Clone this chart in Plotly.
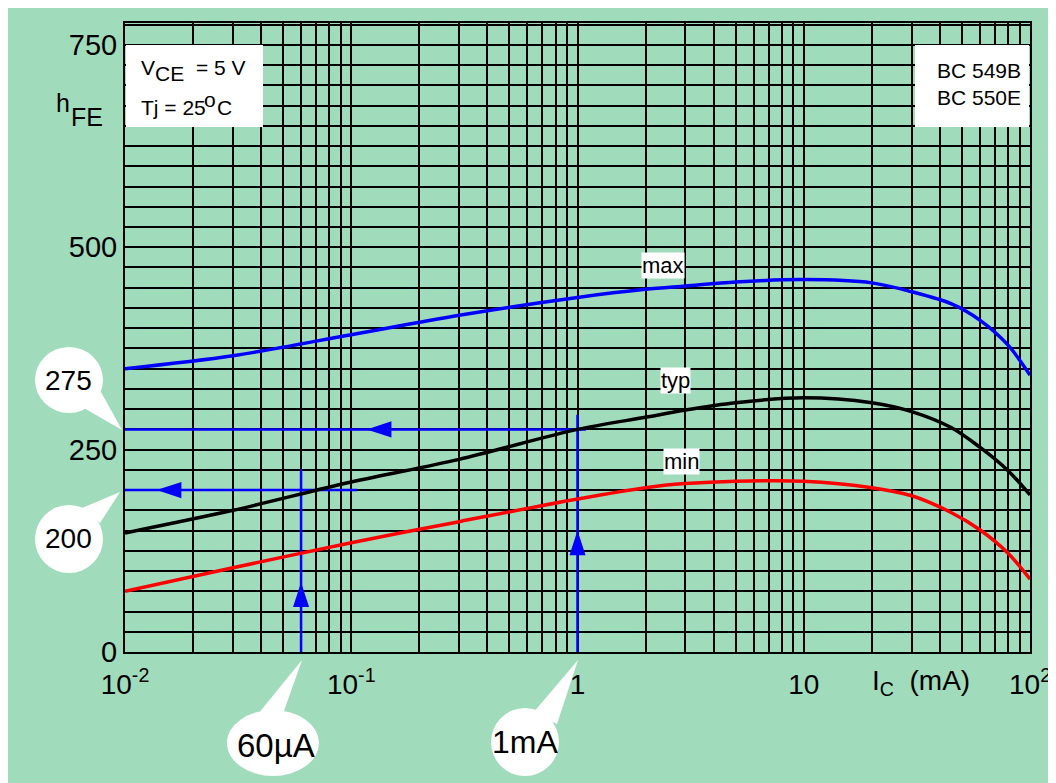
import plotly.graph_objects as go

# ---------------- data ----------------
ic_ma = [0.01, 0.03, 0.1, 0.3, 1, 2, 3, 5, 10, 20, 30, 45, 60, 80, 100]
hfe_max = [350, 366, 392, 416, 438, 448, 452, 457, 460, 456, 445, 430, 410, 379, 342]
hfe_typ = [147, 175, 210, 238, 275, 290, 299, 308, 314, 308, 297, 277, 253, 224, 194]
hfe_min = [75, 104, 135, 161, 189, 203, 208, 211, 211, 203, 193, 172, 151, 122, 90]

y_tick_vals = [0, 250, 500, 750]
y_tick_text = ["0", "250", "500", "750"]
x_tick_vals = [0.01, 0.1, 1, 10, 100]
x_tick_text = ["10<sup>-2</sup>", "10<sup>-1</sup>", "1", "10", "10<sup>2</sup>"]

# operating points
op_ic = [0.06, 1.0]      # mA
op_hfe = [200, 275]
# arrow-head tips
arrow_left_x = [0.0138, 0.117]
arrow_up_y = [86, 150]

# ---------------- geometry ----------------
OFF = 8                      # page body margin
W, H = 1056 - OFF, 783 - OFF
PX0, PX1, PY0, PY1 = 125, 1030, 23, 652   # plot area in screen pixels
L, T = PX0 - OFF, PY0 - OFF
R = W - (PX1 - OFF)
B = H - (PY1 - OFF)
PW = PX1 - PX0
PH = PY1 - PY0
FONT = "Arial, Liberation Sans, sans-serif"
GREEN = "#A0DCBC"


def px2x(px):
    return (px - PX0) / PW


def py2y(py):
    return (PY1 - py) / PH


def ann(text, px, py, size, xanchor="center", yanchor="middle", **kw):
    return dict(text=text, x=px2x(px), y=py2y(py), xref="paper", yref="paper",
                showarrow=False, font=dict(size=size, color="black", family=FONT),
                xanchor=xanchor, yanchor=yanchor, **kw)


fig = go.Figure()

# guide lines
fig.add_trace(go.Scatter(x=[ic_ma[0], op_ic[1] * 1.09], y=[op_hfe[1], op_hfe[1]], mode="lines",
                         line=dict(color="#0000FF", width=2.5), showlegend=False, hoverinfo="skip"))
fig.add_trace(go.Scatter(x=[op_ic[1], op_ic[1]], y=[0, op_hfe[1] + 18], mode="lines",
                         line=dict(color="#0000FF", width=2.5), showlegend=False, hoverinfo="skip"))
fig.add_trace(go.Scatter(x=[ic_ma[0], 0.106], y=[op_hfe[0], op_hfe[0]], mode="lines",
                         line=dict(color="#0000FF", width=2.5), showlegend=False, hoverinfo="skip"))
fig.add_trace(go.Scatter(x=[op_ic[0], op_ic[0]], y=[0, op_hfe[0] + 26], mode="lines",
                         line=dict(color="#0000FF", width=2.5), showlegend=False, hoverinfo="skip"))
# arrow heads
fig.add_trace(go.Scatter(x=arrow_left_x + op_ic, y=op_hfe + arrow_up_y, mode="markers",
                         marker=dict(symbol="arrow", size=26, angle=[-90, -90, 0, 0],
                                     color="#0000FF", line=dict(width=0)),
                         showlegend=False, hoverinfo="skip", cliponaxis=False))

# curves
for vals, col in [(hfe_max, "#0000FF"), (hfe_typ, "#000000"), (hfe_min, "#FF0000")]:
    fig.add_trace(go.Scatter(x=ic_ma, y=vals, mode="lines",
                             line=dict(color=col, width=3.5, shape="spline", smoothing=0.9),
                             showlegend=False))

minor_x = [m * 10 ** k for k in range(-2, 2) for m in range(2, 10)]

fig.update_xaxes(type="log", range=[-2, 2], tickvals=x_tick_vals, ticktext=x_tick_text,
                 showgrid=True, gridcolor="black", gridwidth=2,
                 minor=dict(tickvals=minor_x, showgrid=True, gridcolor="black", gridwidth=2, ticks=""),
                 showline=True, linecolor="black", linewidth=2, mirror=True, ticks="",
                 tickfont=dict(size=28, color="black", family=FONT), ticklabelstandoff=6,
                 zeroline=False)
fig.update_yaxes(range=[0, 777], tickvals=y_tick_vals, ticktext=y_tick_text,
                 showgrid=True, gridcolor="black", gridwidth=2,
                 minor=dict(tick0=0, dtick=25, showgrid=True, gridcolor="black", gridwidth=2, ticks=""),
                 showline=True, linecolor="black", linewidth=2, mirror=True, ticks="",
                 tickfont=dict(size=29, color="black", family=FONT), ticklabelstandoff=0,
                 zeroline=False)

shapes = []
# info boxes
shapes.append(dict(type="rect", xref="paper", yref="paper", x0=px2x(126), x1=px2x(263), y0=py2y(127), y1=py2y(45),
                   fillcolor="white", line=dict(width=0)))
shapes.append(dict(type="rect", xref="paper", yref="paper", x0=px2x(915), x1=px2x(1029), y0=py2y(127), y1=py2y(45),
                   fillcolor="white", line=dict(width=0)))


def bubble(cx, cy, rx, ry, tail):
    out = [dict(type="circle", xref="paper", yref="paper", x0=px2x(cx - rx), x1=px2x(cx + rx),
                y0=py2y(cy + ry), y1=py2y(cy - ry), fillcolor="white", line=dict(width=0))]
    p = "M " + " L ".join(f"{px2x(a):.5f},{py2y(b):.5f}" for a, b in tail) + " Z"
    out.append(dict(type="path", xref="paper", yref="paper", path=p, fillcolor="white", line=dict(width=0)))
    return out


shapes += bubble(69, 380, 34, 33, [(84, 408), (101, 392), (122, 430)])
shapes += bubble(69, 539, 34, 34, [(82, 508), (100, 523), (120, 492)])
shapes += bubble(273, 743, 46, 33, [(258, 714), (284, 711), (302, 660)])
shapes += bubble(525, 742, 34, 34, [(533, 713), (557, 724), (578, 660)])

annotations = [
    ann("275", 68, 380, 28),
    ann("200", 68, 538, 28),
    ann("60\u00b5A", 276, 745, 33),
    ann("1mA", 525, 742, 32),
    ann("h", 63, 103, 25),
    ann("FE", 87, 117, 25),
    ann("V", 139, 67, 21, xanchor="left"),
    ann("CE", 153, 74, 21, xanchor="left"),
    ann("= 5 V", 194, 67, 21, xanchor="left"),
    ann("Tj = 25", 139, 108, 21, xanchor="left"),
    ann("o", 202, 99, 21, xanchor="left"),
    ann("C", 215, 108, 21, xanchor="left"),
    ann("BC 549B", 1023, 70, 21, xanchor="right"),
    ann("BC 550E", 1023, 97, 21, xanchor="right"),
    ann("max", 663, 265, 22, bgcolor="white", borderpad=0),
    ann("typ", 675, 380, 22, bgcolor="white", borderpad=0),
    ann("min", 681, 461, 22, bgcolor="white", borderpad=0),
    ann("I<sub>C</sub>  (mA)", 921, 682, 28),
]

fig.update_layout(width=W, height=H, margin=dict(l=L, r=R, t=T, b=B, autoexpand=False),
                  paper_bgcolor=GREEN, plot_bgcolor=GREEN, shapes=shapes, annotations=annotations,
                  font=dict(family=FONT, color="black"), showlegend=False)

fig.write_html("out.html")
